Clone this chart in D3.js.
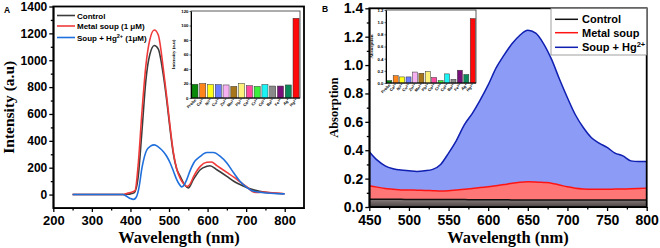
<!DOCTYPE html>
<html>
<head>
<meta charset="utf-8">
<script src="https://cdn.jsdelivr.net/npm/d3@7"></script>
<style>
body { margin:0; background:#fff; }
svg text { font-family:"Liberation Sans", Arial, sans-serif; font-weight:bold; }
.serif { font-family:"Liberation Serif", "Times New Roman", serif !important; }
.axis path, .axis line { stroke:#000; }
</style>
</head>
<body>
<svg id="chart" width="660" height="248"></svg>
<script>

//******************************************************************************
//**  Data
//******************************************************************************

// Panel A - emission spectra (nm, a.u)
var waveControl = [250,300,350,380,390,400,410,420,430,440,450,462,472,486,494,503,511,520,529,542,550,563,581,598,606,624,650,668,684,703,719,754,797];
var intControl  = [0,0,0,0,2,5,15,130,480,850,1040,1110,1085,876,703,481,309,190,136,67,49,111,185,210,215,185,136,99,75,50,35,15,6];

var waveMetal = [250,300,350,380,390,400,412,420,430,440,450,462,472,486,494,503,511,520,529,538,546,555,563,581,598,610,624,650,668,684,703,715,725,740,760,800];
var intMetal  = [0,0,0,0,8,15,30,220,620,960,1150,1225,1190,920,730,500,320,190,120,80,60,80,130,210,240,242,215,165,130,95,55,25,15,18,15,6];

var waveHg = [250,300,350,380,390,400,408,415,422,430,442,452,462,472,485,494,503,512,520,527,533,540,546,555,564,581,598,615,633,650,668,684,703,719,754,800];
var intHg  = [0,0,0,0,-12,-30,-36,-20,50,200,330,360,370,355,320,285,235,170,111,75,57,75,111,180,235,284,313,313,284,235,160,99,50,25,12,5];

// Panel B - absorption spectra
var waveB = [450,460,470,480,490,500,510,520,530,540,550,560,570,580,590,600,610,620,630,640,650,660,670,680,690,700,710,720,730,740,750,760,770,780,790,800];
var absHg = [0.39,0.33,0.29,0.27,0.26,0.255,0.25,0.255,0.265,0.30,0.38,0.47,0.58,0.66,0.755,0.86,0.98,1.07,1.15,1.21,1.245,1.225,1.15,1.04,0.90,0.77,0.65,0.56,0.49,0.45,0.42,0.38,0.36,0.325,0.32,0.32];
var absMetal = [0.15,0.14,0.13,0.125,0.12,0.12,0.118,0.117,0.115,0.113,0.115,0.12,0.125,0.13,0.137,0.143,0.15,0.158,0.168,0.175,0.178,0.177,0.173,0.168,0.155,0.142,0.132,0.127,0.125,0.125,0.125,0.126,0.127,0.128,0.13,0.133];
var absControl = [0.055,0.055,0.054,0.054,0.054,0.053,0.053,0.053,0.053,0.052,0.052,0.052,0.052,0.051,0.051,0.051,0.051,0.051,0.05,0.05,0.05,0.05,0.05,0.05,0.05,0.05,0.05,0.05,0.05,0.05,0.05,0.05,0.05,0.05,0.05,0.05];

// Insets - ion selectivity
var ions = [["Probe",""],["Ca","2+"],["Ni","2+"],["Cu","2+"],["Zn","2+"],["Mn","2+"],["Pb","2+"],["Co","2+"],["Cr","3+"],["Cd","2+"],["Ba","2+"],["Fe","3+"],["Ag","+"],["Hg","2+"]];
var ionColors = ["#0a8a0a","#ff8419","#ffff1a","#6a7cff","#f4b0f0","#a8761a","#fff27a","#ff4aa0","#3cf03c","#1af4f4","#8a8a8a","#7a107a","#0a8a5a","#ff0a0a"];
var insetA = [19,20,18.5,18.5,18,16,20,17,16,18.5,16.5,16.5,18,110];
var insetB = [0.04,0.12,0.10,0.10,0.18,0.16,0.19,0.09,0.04,0.15,0.06,0.21,0.14,1.06];

var ticksA_y = [0,200,400,600,800,1000,1200,1400];
var ticksA_x = [200,300,400,500,600,700,800];
var ticksB_y = [0,0.2,0.4,0.6,0.8,1.0,1.2,1.4];
var ticksB_x = [450,500,550,600,650,700,750,800];

//******************************************************************************
//**  Chart
//******************************************************************************

var svg = d3.select("#chart");

var zip = function(xs, ys){
    return xs.map(function(x, i){ return [x, ys[i]]; });
};

var midpoints = function(arr){
    var out = [];
    for (var i=0; i<arr.length-1; i++) out.push((arr[i]+arr[i+1])/2);
    return out;
};

//**************************************************************************
//** drawAxes
//**************************************************************************
var drawAxes = function(g, x, y, xt, yt, fmtY, fsX, fsY){
    var r = x.range(), ry = y.range();

    // x labels: baseline near y=225
    var padX = 225 - ry[0] - 4 - 0.71*fsX;

    var ax = g.append("g").attr("class","axis").attr("transform","translate(0,"+ry[0]+")")
        .call(d3.axisBottom(x).tickValues(xt).tickSize(4).tickSizeOuter(0).tickPadding(padX));
    g.append("g").attr("class","axis minor").attr("transform","translate(0,"+ry[0]+")")
        .call(d3.axisBottom(x).tickValues(midpoints(xt)).tickSize(2.5).tickSizeOuter(0));

    var ay = g.append("g").attr("class","axis").attr("transform","translate("+r[0]+",0)")
        .call(d3.axisLeft(y).tickValues(yt).tickSize(4).tickSizeOuter(0).tickPadding(2).tickFormat(fmtY));
    g.append("g").attr("class","axis minor").attr("transform","translate("+r[0]+",0)")
        .call(d3.axisLeft(y).tickValues(midpoints(yt)).tickSize(2.5).tickSizeOuter(0));

    g.selectAll(".minor text").remove();
    g.selectAll(".axis line").attr("stroke-width",1.3);
    g.selectAll(".axis path").attr("stroke","none");
    ax.selectAll("text").style("font-size", fsX+"px");
    ay.selectAll("text").style("font-size", fsY+"px");
    [ax, ay].forEach(function(a){
        a.selectAll("text").attr("fill","#000")
         .style("font-family","'Liberation Sans', Arial, sans-serif").style("font-weight","bold");
    });

    g.append("rect")
        .attr("x", r[0]).attr("y", ry[1])
        .attr("width", r[1]-r[0]).attr("height", ry[0]-ry[1])
        .attr("fill","none").attr("stroke","#000").attr("stroke-width",1.8);
};

//**************************************************************************
//** drawInset
//**************************************************************************
var drawInset = function(g, box, values, ymax, yt, fmt, label, labelX){
    var x = d3.scaleBand().domain(d3.range(ions.length)).range([box.x0, box.x1]).paddingInner(0.22).paddingOuter(0.12);
    var y = d3.scaleLinear().domain([0, ymax]).range([box.y1, box.y0]);

    g.append("rect").attr("x",box.x0).attr("y",box.y0)
        .attr("width",box.x1-box.x0).attr("height",box.y1-box.y0)
        .attr("fill","#fff").attr("stroke","#333").attr("stroke-width",0.8);

    g.selectAll(".bar").data(values).enter().append("rect")
        .attr("x", function(d,i){ return x(i); })
        .attr("y", function(d){ return y(d); })
        .attr("width", x.bandwidth())
        .attr("height", function(d){ return y(0)-y(d); })
        .attr("fill", function(d,i){ return ionColors[i]; })
        .attr("stroke","#333").attr("stroke-width",0.5);

    var ay = g.append("g").attr("transform","translate("+box.x0+",0)")
        .call(d3.axisLeft(y).tickValues(yt).tickSize(1.5).tickSizeOuter(0).tickPadding(1).tickFormat(fmt));
    ay.select("path").attr("stroke","#000").attr("stroke-width",1);
    ay.selectAll("line").attr("stroke","#000").attr("stroke-width",0.6);
    ay.selectAll("text").style("font-size","4.3px").attr("fill","#000");

    g.append("line").attr("x1",box.x0).attr("x2",box.x1).attr("y1",box.y1).attr("y2",box.y1)
        .attr("stroke","#000").attr("stroke-width",1);

    var lab = g.selectAll(".ion").data(ions).enter().append("text")
        .attr("transform", function(d,i){
            return "translate("+(x(i)+x.bandwidth()/2+1.5)+","+(box.y1+2.5)+") rotate(-45)";
        })
        .attr("text-anchor","end")
        .style("font-size","4px")
        .attr("fill","#000");
    lab.append("tspan").text(function(d){ return d[0]; });
    lab.append("tspan").attr("dy",-1.3).style("font-size","3px").text(function(d){ return d[1]; });

    g.append("text").attr("class","serif")
        .attr("transform","translate("+labelX+","+((box.y0+box.y1)/2)+") rotate(-90)")
        .attr("text-anchor","middle")
        .style("font-size","5px")
        .text(label);
};

//**************************************************************************
//** Panel A
//**************************************************************************
var gA = svg.append("g");
var xA = d3.scaleLinear().domain([200, 850]).range([53.3, 304]);
var yA = d3.scaleLinear().domain([-100, 1400]).range([208, 6.5]);

var lineA = d3.line().x(function(d){ return xA(d[0]); }).y(function(d){ return yA(d[1]); })
    .curve(d3.curveMonotoneX);

var seriesA = [
    {name:"Control", data:zip(waveControl, intControl), color:"#3c3c3c"},
    {name:"Metal soup (1 \u03bcM)", data:zip(waveMetal, intMetal), color:"#f03a3a"},
    {name:"Soup + Hg", sup:"2+", tail:" (1\u03bcM)", data:zip(waveHg, intHg), color:"#1f6fdc"}
];

seriesA.forEach(function(s){
    gA.append("path").datum(s.data).attr("d", lineA)
        .attr("fill","none").attr("stroke", s.color).attr("stroke-width",1.6);
});

drawAxes(gA, xA, yA, ticksA_x, ticksA_y, d3.format("d"), 13, 12);

// legend A
var legA = [15.5, 26, 37.5];
seriesA.forEach(function(s, i){
    gA.append("line").attr("x1",57).attr("x2",75).attr("y1",legA[i]).attr("y2",legA[i])
        .attr("stroke", s.color).attr("stroke-width",1.6);
    var t = gA.append("text").attr("x",77).attr("y",legA[i]+3).style("font-size","8px").text(s.name);
    if (s.sup){
        t.append("tspan").attr("dy",-3).style("font-size","5.5px").text(s.sup);
        t.append("tspan").attr("dy",3).text(s.tail);
    }
});

drawInset(gA, {x0:191, x1:300, y0:11, y1:98}, insetA, 120, [0,20,40,60,80,100,120], d3.format("d"), "Intensity (a.u)", 175);

gA.append("text").attr("class","serif")
    .attr("transform","translate(14,"+yA(650)+") rotate(-90)")
    .attr("text-anchor","middle").style("font-size","15.5px")
    .text("Intensity (a.u)");
gA.append("text").attr("class","serif")
    .attr("x",179).attr("y",243).attr("text-anchor","middle").style("font-size","16.5px")
    .text("Wavelength (nm)");
gA.append("text").attr("x",4).attr("y",13).style("font-size","8.5px").text("A");

//**************************************************************************
//** Panel B
//**************************************************************************
var gB = svg.append("g");
var xB = d3.scaleLinear().domain([450, 800]).range([369.3, 646.7]);
var yB = d3.scaleLinear().domain([0, 1.4]).range([207, 8.3]);

var defs = svg.append("defs");
var grad = defs.append("linearGradient").attr("id","ctrlFill").attr("x1",0).attr("x2",0).attr("y1",0).attr("y2",1);
grad.append("stop").attr("offset","0%").attr("stop-color","#8a7e7e");
grad.append("stop").attr("offset","100%").attr("stop-color","#4a4242");

var areaB = d3.area().x(function(d){ return xB(d[0]); }).y0(yB(0)).y1(function(d){ return yB(d[1]); })
    .curve(d3.curveMonotoneX);
var lineB = d3.line().x(function(d){ return xB(d[0]); }).y(function(d){ return yB(d[1]); })
    .curve(d3.curveMonotoneX);

var seriesB = [
    {name:"Soup + Hg", sup:"2+", data:zip(waveB, absHg), fill:"#8b9bf6", color:"#0f1fb0"},
    {name:"Metal soup", data:zip(waveB, absMetal), fill:"#ff7676", color:"#ff1414"},
    {name:"Control", data:zip(waveB, absControl), fill:"url(#ctrlFill)", color:"#111"}
];

seriesB.forEach(function(s){
    gB.append("path").datum(s.data).attr("d", areaB).attr("fill", s.fill);
});
seriesB.forEach(function(s){
    gB.append("path").datum(s.data).attr("d", lineB)
        .attr("fill","none").attr("stroke", s.color).attr("stroke-width",1.5);
});

drawAxes(gB, xB, yB, ticksB_x, ticksB_y, d3.format(".1f"), 14, 14);

// legend B
gB.append("rect").attr("x",551).attr("y",8.5).attr("width",95.5).attr("height",46.5)
    .attr("fill","#fff").attr("stroke","#888").attr("stroke-width",0.8);
var legB = [19.3, 32.7, 47.3];
seriesB.slice().reverse().forEach(function(s, i){
    gB.append("line").attr("x1",555).attr("x2",578).attr("y1",legB[i]).attr("y2",legB[i])
        .attr("stroke", s.color).attr("stroke-width",1.5);
    var t = gB.append("text").attr("x",582).attr("y",legB[i]+4).style("font-size","11px").text(s.name);
    if (s.sup) t.append("tspan").attr("dy",-4).style("font-size","7.5px").text(s.sup);
});

drawInset(gB, {x0:386, x1:476, y0:10, y1:83}, insetB, 1.2, [0,0.2,0.4,0.6,0.8,1.0,1.2], d3.format(".1f"), "Absorption", 373);

gB.append("text").attr("class","serif")
    .attr("transform","translate(338,"+yB(0.7)+") rotate(-90)")
    .attr("text-anchor","middle").style("font-size","12.5px")
    .text("Absorption");
gB.append("text").attr("class","serif")
    .attr("x",508).attr("y",243).attr("text-anchor","middle").style("font-size","16.5px")
    .text("Wavelength (nm)");
gB.append("text").attr("x",322).attr("y",12).style("font-size","8.5px").text("B");

</script>
</body>
</html>
